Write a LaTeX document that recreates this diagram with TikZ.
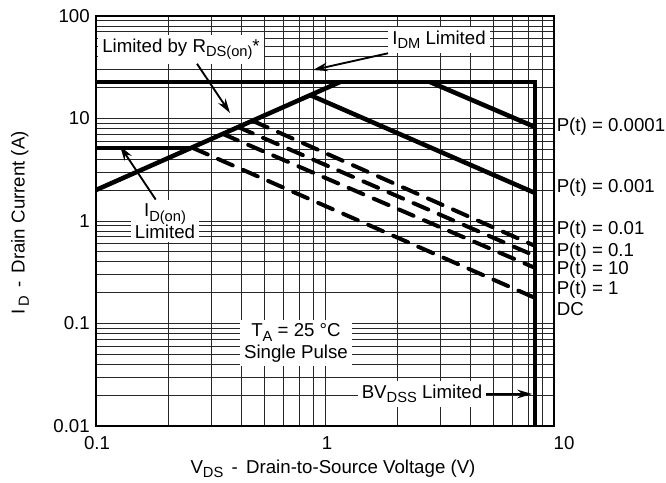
\documentclass[tikz,border=0pt]{standalone}
\usepackage{fontspec}
\setmainfont{Liberation Sans}
\usetikzlibrary{arrows.meta, positioning, calc}
\tikzset{gridline/.style={
          draw,
          black!85,
          line width=0.6pt
     }}
\tikzset{limit/.style={
          draw,
          line width=3.4pt
     }}
\tikzset{pulse/.style={
          draw,
          line width=3pt,
          line cap=round,
          dash pattern=on 12pt off 8.5pt
     }}
\tikzset{callout/.style={
          fill=white,
          inner sep=3pt,
          align=center
     }}
\tikzset{ticklabel/.style={inner sep=0pt}}
\tikzstyle{arrow} = [line width=1.4pt,-{Stealth[length=11pt,width=6.5pt]}]
\newcommand{\tsub}[1]{\raisebox{-0.45ex}{\fontsize{11}{12}\selectfont #1}}

\begin{document}
\begin{tikzpicture}[x=0.75pt, y=-0.75pt, font=\fontsize{14}{16}\selectfont]
\useasboundingbox (0,0) rectangle (666,482);

% grid
\foreach \y in {426,323.5,221,118.5} {
  \foreach \k in {1,...,9} {
    \draw[gridline] (96,{\y-102.5*log10(\k)}) -- (554,{\y-102.5*log10(\k)});
  }
}
\foreach \k in {2,...,8} {
  \draw[gridline] ({96+241*log10(\k)},16) -- ({96+241*log10(\k)},426);
  \draw[gridline] ({325+241*log10(\k)},16) -- ({325+241*log10(\k)},426);
}
\draw[gridline] (325,16) -- (325,426);
\draw[line width=1.6pt] (96,16) rectangle (554,426);

% limits
\draw[limit] (96,82) -- (535,82) -- (535,426);
\draw[limit] (96,148) -- (193,148);
\draw[limit] (96,190) -- (340,82);
\draw[limit] (430,82) -- (535,127);
\draw[limit] (310,95) -- (535,193);
\draw[pulse] (253,121) -- (533,245);
\draw[pulse] (238,127) -- (533,255);
\draw[pulse] (223,134) -- (533,267);
\draw[pulse] (193,148) -- (533,297);

% axis labels
\node (y100) [ticklabel, anchor=east] at (90,16) {100};
\node (y10) [ticklabel, anchor=east] at (90,118.5) {10};
\node (y1) [ticklabel, anchor=east] at (90,221) {1};
\node (y01) [ticklabel, anchor=east] at (90,323.5) {0.1};
\node (y001) [ticklabel, anchor=east] at (90,426) {0.01};
\node (x01) [ticklabel] at (97,443) {0.1};
\node (x1) [ticklabel] at (327,443) {1};
\node (x10) [ticklabel] at (564,443) {10};
\node (xtitle) at (333,469) {V\tsub{DS} \,-\, Drain-to-Source Voltage (V)};
\node (ytitle) [rotate=90] at (20,223) {I\,\tsub{D} \,-\, Drain Current (A)};

% pulse labels
\node (p4) [ticklabel, anchor=west] at (556.5,127) {P(t) = 0.0001};
\node (p3) [ticklabel, anchor=west] at (556.5,188) {P(t) = 0.001};
\node (p2) [ticklabel, anchor=west] at (556.5,230) {P(t) = 0.01};
\node (p1) [ticklabel, anchor=west] at (556.5,252) {P(t) = 0.1};
\node (p10) [ticklabel, anchor=west] at (556.5,270) {P(t) = 10};
\node (p0) [ticklabel, anchor=west] at (556.5,290) {P(t) = 1};
\node (dc) [ticklabel, anchor=west] at (556.5,309) {DC};

% callouts
\node (rdsbox) [callout] at (181,49) {Limited by R\tsub{DS(on)}*};
\node (idmbox) [callout] at (439,40) {I\tsub{DM} Limited};
\node (idonbox) [callout] at (165,221) {I\tsub{D(on)}\\Limited};
\node (tabox) [callout] at (296,343) {T\tsub{A} = 25 °C\\Single Pulse};
\node (bvbox) [callout] at (422,394) {BV\tsub{DSS} Limited};

\coordinate (rdstip) at (230,113);
\coordinate (idmtip) at (313,70);
\coordinate (idontip) at (120,146);
\coordinate (bvtip) at (532,394);

\draw [arrow] ([xshift=12pt]rdsbox.south) -- (rdstip);
\draw [arrow] (idmbox.south west) -- (idmtip);
\draw [arrow] ([xshift=-7pt]idonbox.north) -- (idontip);
\draw [arrow] (bvbox.east) -- (bvtip);
\end{tikzpicture}
\end{document}
